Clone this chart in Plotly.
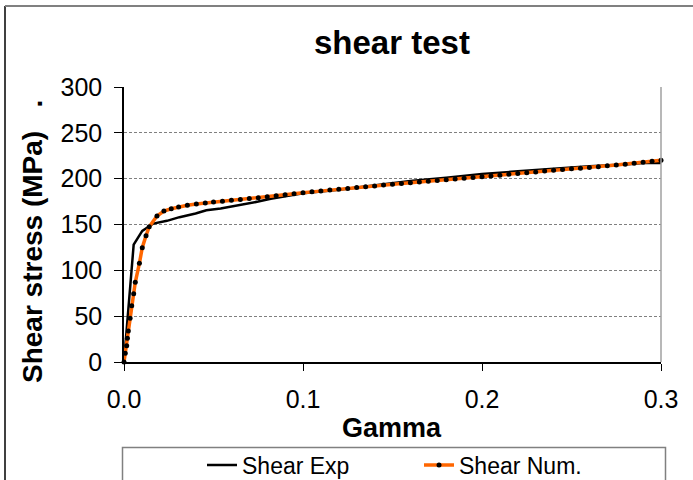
import plotly.graph_objects as go

# ---- data ----
exp_gamma = [0.0, 0.0054, 0.0102, 0.0164, 0.024, 0.031, 0.04, 0.046, 0.054, 0.065,
             0.075, 0.082, 0.09, 0.1, 0.12, 0.14, 0.16, 0.18, 0.2, 0.22,
             0.24, 0.26, 0.28, 0.29, 0.3]
exp_stress = [0, 128, 143, 151, 154, 158, 162, 165.5, 167.5, 171,
              175, 178, 181, 184, 188, 193, 197.5, 201, 205, 208,
              211, 213.5, 215.5, 217, 217]

num_gamma = [0.0, 0.0007, 0.0015, 0.0019, 0.0024, 0.0034, 0.0043, 0.0054, 0.0063, 0.0086,
             0.0102, 0.0123, 0.0141, 0.0184, 0.0223, 0.0264, 0.0305, 0.0354, 0.0404, 0.0454,
             0.050, 0.055, 0.060, 0.065, 0.070, 0.075, 0.080, 0.085, 0.090, 0.095,
             0.100, 0.105, 0.110, 0.115, 0.120, 0.125, 0.130, 0.135, 0.140, 0.145,
             0.150, 0.155, 0.160, 0.165, 0.170, 0.175, 0.180, 0.185, 0.190, 0.195,
             0.200, 0.205, 0.210, 0.215, 0.220, 0.225, 0.230, 0.235, 0.240, 0.245,
             0.250, 0.255, 0.260, 0.265, 0.270, 0.275, 0.280, 0.285, 0.290, 0.295,
             0.300]
num_stress = [0, 9.5, 17.8, 25.8, 33.8, 47.6, 61.4, 74.5, 86.9, 107.6,
              124.7, 137.8, 147.6, 159.3, 164.7, 167.2, 169.1, 170.9, 172.4, 173.5,
              174.5, 175.5, 176.5, 177.4, 178.3, 179.2, 180.2, 181.3, 182.4, 183.5,
              184.6, 185.6, 186.6, 187.6, 188.5, 189.4, 190.3, 191.2, 192.1, 193.0,
              193.9, 194.8, 195.6, 196.4, 197.2, 198.0, 198.8, 199.6, 200.4, 201.2,
              202.0, 202.9, 203.8, 204.7, 205.6, 206.5, 207.4, 208.3, 209.1, 209.9,
              210.7, 211.5, 212.3, 213.1, 214.0, 214.9, 215.8, 216.8, 217.8, 218.9,
              220.0]

x_ticks = [0.0, 0.1, 0.2, 0.3]
x_tick_labels = ["0.0", "0.1", "0.2", "0.3"]
y_ticks = [0, 50, 100, 150, 200, 250, 300]

FONT = "Liberation Sans, Arial, sans-serif"

fig = go.Figure()
fig.add_trace(go.Scatter(x=exp_gamma, y=exp_stress, mode="lines", name="Shear Exp",
                         line=dict(color="black", width=2.5), cliponaxis=False))
fig.add_trace(go.Scatter(x=num_gamma, y=num_stress, mode="lines+markers", name="Shear Num.",
                         line=dict(color="#FF6600", width=3.5),
                         marker=dict(color="black", size=5), cliponaxis=False))

W, H = 693, 480
L, R, T, B = 124, 32, 87, 118
pw, ph = W - L - R, H - T - B

def px(xp):
    return (xp - L) / pw

def py(yp):
    return (H - B - yp) / ph

fig.update_layout(
    width=W, height=H,
    margin=dict(l=L, r=R, t=T, b=B, autoexpand=False),
    paper_bgcolor="white", plot_bgcolor="white",
    font=dict(family=FONT, color="black"),
    showlegend=True,
    legend=dict(orientation="h", x=px(202), y=py(465), xanchor="left", yanchor="middle",
                font=dict(size=23, family=FONT), bgcolor="rgba(0,0,0,0)",
                entrywidth=172, borderwidth=0),
    xaxis=dict(range=[0, 0.3], tickvals=x_ticks, ticktext=x_tick_labels,
               showline=True, linecolor="black", linewidth=1.5,
               ticks="outside", ticklen=7, tickcolor="black", tickwidth=1,
               ticklabelstandoff=7,
               showgrid=False, zeroline=False,
               tickfont=dict(size=25, family=FONT)),
    yaxis=dict(range=[0, 300], tickvals=y_ticks,
               showline=True, linecolor="black", linewidth=1.5,
               ticks="outside", ticklen=8, tickcolor="black", tickwidth=1,
               ticklabelstandoff=7,
               showgrid=True, gridcolor="#808080", gridwidth=1, griddash="3px,2px",
               zeroline=False,
               tickfont=dict(size=25, family=FONT)),
    annotations=[
        dict(text="<b>shear test</b>", xref="paper", yref="paper",
             x=px(392), y=py(42), xanchor="center", yanchor="middle",
             showarrow=False, font=dict(size=33, family=FONT)),
        dict(text="<b>Gamma</b>", xref="paper", yref="paper",
             x=px(392), y=py(428), xanchor="center", yanchor="middle",
             showarrow=False, font=dict(size=27, family=FONT)),
        dict(text="<b>Shear stress (MPa)\u00a0\u00a0\u00a0.</b>", xref="paper", yref="paper",
             x=px(32), y=py(241), xanchor="center", yanchor="middle", textangle=-90,
             showarrow=False, font=dict(size=28, family=FONT)),
    ],
    shapes=[
        # right plot border
        dict(type="line", xref="paper", yref="paper", x0=1, x1=1, y0=0, y1=1,
             line=dict(color="#A0A0A0", width=1.5)),
        # outer chart border (left, top)
        dict(type="line", xref="paper", yref="paper", x0=px(5), x1=px(5), y0=py(6), y1=py(490),
             line=dict(color="black", width=1.5)),
        dict(type="line", xref="paper", yref="paper", x0=px(5), x1=px(700), y0=py(6), y1=py(6),
             line=dict(color="#808080", width=2)),
        # legend box
        dict(type="rect", xref="paper", yref="paper", x0=px(122.5), x1=px(665.5),
             y0=py(495), y1=py(447.5), line=dict(color="#808080", width=1.5),
             fillcolor="rgba(0,0,0,0)"),
    ],
)

fig.write_html("out.html")
